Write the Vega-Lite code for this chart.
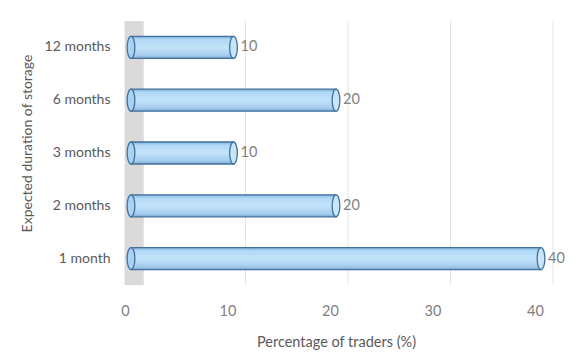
{
  "$schema": "https://vega.github.io/schema/vega-lite/v6.json",
  "width": 410,
  "height": 264,
  "autosize": {"type": "none"},
  "padding": {"left": 131, "top": 21, "right": 34, "bottom": 69},
  "background": "white",
  "config": {"view": {"stroke": null}, "font": "Lato"},
  "data": {"values": [
    {"duration": "12 months", "pct": 10},
    {"duration": "6 months", "pct": 20},
    {"duration": "3 months", "pct": 10},
    {"duration": "2 months", "pct": 20},
    {"duration": "1 month", "pct": 40}
  ]},
  "encoding": {
    "y": {
      "field": "duration", "type": "nominal",
      "sort": ["12 months", "6 months", "3 months", "2 months", "1 month"],
      "scale": {"paddingInner": 0.58, "paddingOuter": 0.29},
      "axis": {
        "title": "Expected duration of storage",
        "titleFont": "Lato", "titleFontSize": 14, "titleFontWeight": "normal", "titleColor": "#595959",
        "titlePadding": 10, "titleY": 122,
        "labelFont": "Lato", "labelFontSize": 14, "labelColor": "#595959", "labelPadding": 21,
        "ticks": false, "domain": false, "grid": false
      }
    }
  },
  "layer": [
    {
      "mark": {"type": "rect", "color": "#d9d9d9", "opacity": 0.8},
      "encoding": {"y": null, "x": {"datum": -0.6, "type": "quantitative"}, "x2": {"datum": 1.2}}
    },
    {
      "data": {"values": [{"g": 0}, {"g": 10}, {"g": 20}, {"g": 30}, {"g": 40}]},
      "mark": {"type": "rule", "color": "#e4e4e4", "strokeWidth": 1, "xOffset": 12},
      "encoding": {"y": null, "x": {"field": "g", "type": "quantitative"}}
    },
    {
      "mark": {
        "type": "bar", "size": 22, "stroke": "#41719c", "strokeWidth": 1.3,
        "color": {"gradient": "linear", "x1": 0, "y1": 0, "x2": 0, "y2": 1,
          "stops": [
            {"offset": 0, "color": "#7fb0dc"},
            {"offset": 0.15, "color": "#b3d9f6"},
            {"offset": 0.5, "color": "#c3e3fa"},
            {"offset": 0.85, "color": "#a6cdee"},
            {"offset": 1, "color": "#7ea8d2"}
          ]}
      },
      "encoding": {
        "x": {
          "field": "pct", "type": "quantitative",
          "scale": {"domain": [0, 40], "nice": false},
          "axis": {
            "title": "Percentage of traders (%)",
            "titleFont": "Lato", "titleFontSize": 14.5, "titleFontWeight": "normal", "titleColor": "#595959",
            "titlePadding": 18,
            "values": [0, 10, 20, 30, 40],
            "labelFont": "Lato", "labelFontSize": 14.5, "labelColor": "#7f7f7f",
            "labelPadding": 19, "labelOffset": -6, "labelFlush": false,
            "ticks": false, "domain": false, "grid": false
          }
        }
      }
    },
    {
      "mark": {"type": "point", "shape": "M0,-1 A0.35,1 0 1,1 0,1 A0.35,1 0 1,1 0,-1 Z", "size": 484, "filled": true, "fill": "#a9d2f2", "stroke": "#41719c", "strokeWidth": 1.3, "opacity": 1},
      "encoding": {"x": {"datum": 0, "type": "quantitative"}}
    },
    {
      "mark": {"type": "point", "shape": "M0,-1 A0.35,1 0 1,1 0,1 A0.35,1 0 1,1 0,-1 Z", "size": 484, "filled": true, "fill": "#c8e5fa", "stroke": "#41719c", "strokeWidth": 1.3, "opacity": 1},
      "encoding": {"x": {"field": "pct", "type": "quantitative"}}
    },
    {
      "mark": {"type": "text", "align": "left", "dx": 7, "font": "Lato", "fontSize": 14.5, "color": "#7f7f7f"},
      "encoding": {"x": {"field": "pct", "type": "quantitative"}, "text": {"field": "pct", "type": "quantitative"}}
    }
  ]
}
